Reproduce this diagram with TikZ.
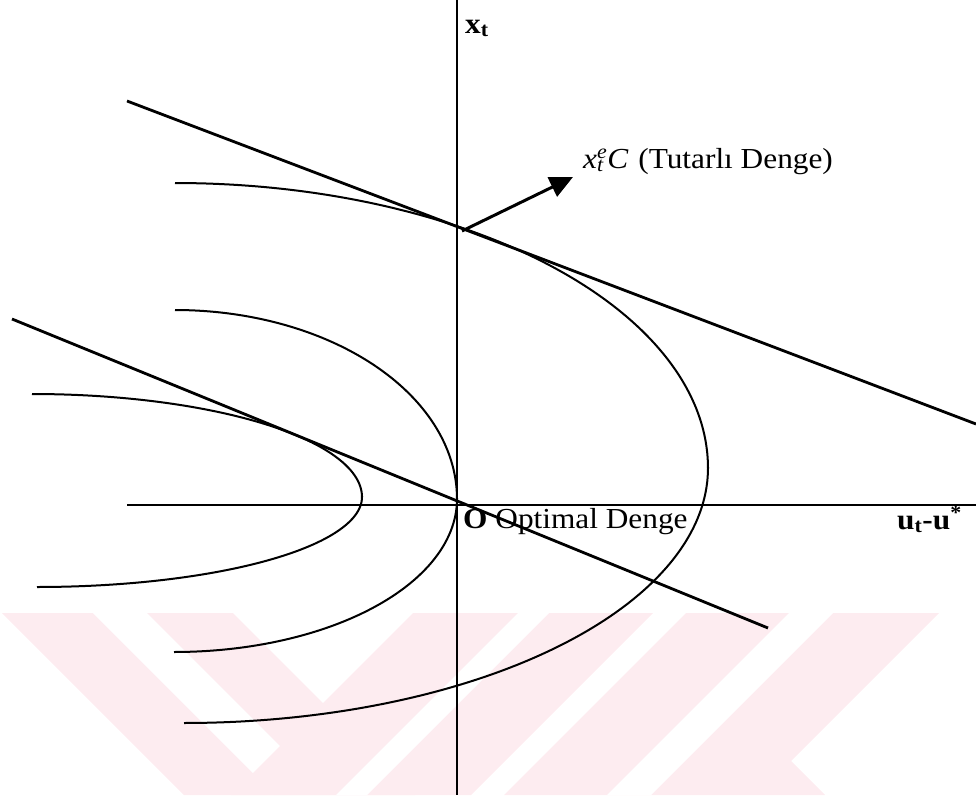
\documentclass[tikz,border=0pt]{standalone}
\usepackage{fontspec}
\setmainfont{Liberation Serif}[FakeStretch=1.08]
\usetikzlibrary{arrows.meta}
\definecolor{wm}{RGB}{253,236,240}
\tikzset{
  axisline/.style={line width=1.6pt},
  tangline/.style={line width=2.8pt},
  indiff/.style={line width=2pt},
  lbl/.style={inner sep=0pt, anchor=base west, font=\fontsize{29}{31}\selectfont},
  wmark/.style={fill=wm, draw=none},
  wgap/.style={fill=white, draw=none},
  pointer/.style={line width=3pt, -{Triangle[length=23pt,width=21pt]}},
}
\begin{document}
\begin{tikzpicture}[x=1pt,y=-1pt]
\useasboundingbox (0,0) rectangle (976,795);
% watermark
\path[wmark] (2,613) -- (233,613) -- (415,795) -- (184,795) -- cycle;
\path[wgap] (93,613) -- (147,613) -- (329,795) -- (275,795) -- cycle;
\path[wmark] (413,613) -- (653,613) -- (471,795) -- (231,795) -- cycle;
\path[wgap] (518,613) -- (549,613) -- (367,795) -- (336,795) -- cycle;
\path[wmark] (686,613) -- (939,613) -- (791,761) -- (825,795) -- (504,795) -- cycle;
\path[wgap] (789,613) -- (833,613) -- (651,795) -- (607,795) -- cycle;
% key points
\coordinate (O) at (457,505);
\coordinate (ytop) at (457,0);
\coordinate (ybot) at (457,795);
\coordinate (xleft) at (127,505);
\coordinate (xright) at (976,505);
\coordinate (UA) at (127,101);
\coordinate (UB) at (976,424);
\coordinate (LA) at (12,319);
\coordinate (LB) at (768,628);
\coordinate (C) at (462,231);
\coordinate (Ctip) at (573,177);
% axes
\draw[axisline] (ytop) -- (ybot);
\draw[axisline] (xleft) -- (xright);
% curves
\draw[indiff] plot[domain=-90:0, samples=60, smooth] ({175+533*cos(\x)},{468+285*sin(\x)})
   -- plot[domain=0:90, samples=60, smooth] ({184+524*cos(\x)},{468+255*sin(\x)});
\draw[indiff] plot[domain=-90:0, samples=60, smooth] ({175+282*cos(\x)},{499+189*sin(\x)})
   -- plot[domain=0:90, samples=60, smooth] ({174+283*cos(\x)},{499+153*sin(\x)});
\draw[indiff] plot[domain=-90:0, samples=60, smooth] ({32+330*cos(\x)},{497+103*sin(\x)})
   -- plot[domain=0:90, samples=60, smooth] ({37+325*cos(\x)},{497+90*sin(\x)});
% tangent lines
\draw[tangline] (UA) -- (UB);
\draw[tangline] (LA) -- (LB);
% arrow
\draw[pointer] (C) -- (Ctip);
% labels
\node[lbl] (xt) at (465,33) {\textbf{x\textsubscript{t}}};
\node[lbl] (eq) at (583,168) {\textit{x}\rlap{\textsubscript{\textit{t}}}\textsuperscript{\textit{e}}\textit{C}\hspace{2pt} (Tutarlı Denge)};
\node[lbl] (opt) at (463,528) {\textbf{O} Optimal Denge};
\node[lbl] (ut) at (897,529) {\textbf{u\textsubscript{t}-u\textsuperscript{*}}};
\end{tikzpicture}
\end{document}
